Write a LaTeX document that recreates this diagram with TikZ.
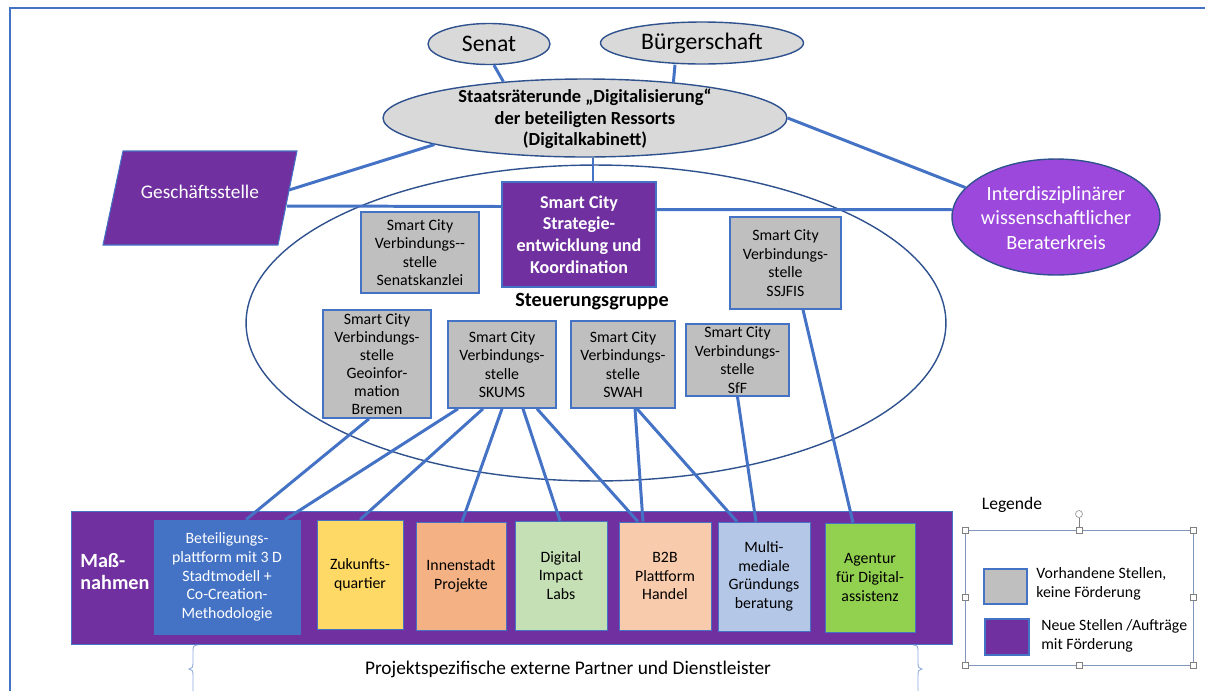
\documentclass[tikz,border=0pt]{standalone}
\usepackage{fontspec}
\setmainfont{Carlito}
\usepackage{tikz}
\usetikzlibrary{shapes.geometric}
\usetikzlibrary{calc}
\usepackage{xcolor}
\definecolor{myPurple}{RGB}{112,48,160}
\definecolor{myViolet}{RGB}{157,72,220}
\definecolor{myLine}{RGB}{68,114,196}
\definecolor{myDark}{RGB}{47,82,143}
\definecolor{myGrey}{RGB}{191,191,191}
\definecolor{myLight}{RGB}{217,217,217}
\definecolor{myYellow}{RGB}{255,217,102}
\definecolor{myOrange}{RGB}{244,177,131}
\definecolor{myGreen}{RGB}{197,224,180}
\definecolor{myPeach}{RGB}{248,203,173}
\definecolor{mySky}{RGB}{180,199,231}
\definecolor{myLime}{RGB}{146,208,80}
\tikzset{
  link/.style={draw=myLine, line width=1.7pt},
  topEll/.style={ellipse, draw=myDark, line width=0.8pt, fill=myLight, inner sep=0pt},
  greyBox/.style={draw=myLine, line width=0.9pt, fill=myGrey, align=center, inner sep=0pt,
    font=\fontsize{9}{10.5}\selectfont},
  purpleBox/.style={draw=myLine, line width=0.6pt, fill=myPurple, text=white, align=center, inner sep=0pt},
  massBox/.style={draw=myLine, line width=0.4pt, align=center, inner sep=0pt,
    font=\fontsize{9}{10.6}\selectfont},
}

\begin{document}
\begin{tikzpicture}[x=0.02cm, y=-0.02cm]

%%%%%%%%%%%%%%%%%%%%%%%%%%%%%%%%%%%%%%%%%%%%%%%%%%%%%%%%%%%%%% Setup
\useasboundingbox (0,0) rectangle (1205,691);
\draw[myLine, line width=0.6pt] (10,691) -- (10,8) -- (1205,8);

%%%%%%%%%%%%%%%%%%%%%%%%%%%%%%%%%%%%%%%%%%%%%%%%%%%%%%%%%%%%%% Steuerungsgruppe
\node[ellipse, draw=myDark, line width=0.8pt, inner sep=0pt, minimum width=14cm, minimum height=6.32cm] (steuer) at (596,323) {};

%%%%%%%%%%%%%%%%%%%%%%%%%%%%%%%%%%%%%%%%%%%%%%%%%%%%%%%%%%%%%% Top
\node[topEll, minimum width=2.44cm, minimum height=0.82cm, font=\fontsize{13.5}{16}\selectfont] (senat) at (489,44) {Senat};
\node[topEll, minimum width=4.06cm, minimum height=0.84cm, font=\fontsize{13.5}{16}\selectfont] (buerger) at (702,43) {Bürgerschaft};
\node[topEll, minimum width=8.08cm, minimum height=1.56cm] (staatsrat) at (585,118) {};
\node[align=center, font=\bfseries\fontsize{10.5}{12.2}\selectfont] (staatsratTxt) at (585,119) {Staatsräterunde „Digitalisierung“\\der beteiligten Ressorts\\(Digitalkabinett)};

% Geschaeftsstelle
\filldraw[draw=myLine, line width=0.6pt, fill=myPurple] (123,151) -- (297,151) -- (278,245) -- (103,245) -- cycle;
\node[text=white, font=\fontsize{11}{13}\selectfont] (gs) at (200,192) {Geschäftsstelle};
\coordinate (gsA) at (289,190);
\coordinate (gsB) at (287,206);

% Beraterkreis
\node[ellipse, draw=myDark, line width=0.8pt, fill=myViolet, inner sep=0pt, minimum width=4.16cm, minimum height=2.32cm] (interd) at (1056,217) {};
\node[align=center, text=white, font=\fontsize{11.5}{13.8}\selectfont] (interdTxt) at (1056,218) {Interdisziplinärer\\wissenschaftlicher\\Beraterkreis};

\draw[link] ($(senat.south)+(5,0)$) -- (staatsrat.156);
\draw[link] ($(buerger.south)+(-27,0)$) -- (staatsrat.22);
\draw[link] (gsA) -- (staatsrat.190);
\draw[link] (staatsrat.east) -- (interd.162);

%%%%%%%%%%%%%%%%%%%%%%%%%%%%%%%%%%%%%%%%%%%%%%%%%%%%%%%%%%%%%% Stellen
\node[purpleBox, minimum width=3.08cm, minimum height=2.1cm, font=\bfseries\fontsize{10.3}{12.3}\selectfont] (strat) at (579,234.5) {Smart City\\Strategie-\\entwicklung und\\Koordination};
\node[font=\bfseries\fontsize{11.5}{14}\selectfont] (steuerTxt) at (592,302) {Steuerungsgruppe};

\draw[link] ($(staatsrat.south)+(8,0)$) -- ($(strat.north)+(14,0)$);
\draw[link] (gsB) -- ($(strat.west)+(0,-28)$);
\draw[link] ($(strat.east)+(0,-25)$) -- (interd.176);

\node[greyBox, minimum width=2.36cm, minimum height=1.62cm] (senkanz) at (420,252.5) {Smart City\\Verbindungs-{}-\\stelle\\Senatskanzlei};
\node[greyBox, minimum width=2.22cm, minimum height=1.84cm] (ssjfis) at (785.5,263) {Smart City\\Verbindungs-\\stelle\\SSJFIS};
\node[greyBox, minimum width=2.16cm, minimum height=2.16cm, font=\fontsize{9}{10.3}\selectfont] (geo) at (377,364) {Smart City\\Verbindungs-\\stelle\\Geoinfor-\\mation\\Bremen};
\node[greyBox, minimum width=2.16cm, minimum height=1.74cm] (skums) at (502,364.5) {Smart City\\Verbindungs-\\stelle\\SKUMS};
\node[greyBox, minimum width=2.08cm, minimum height=1.74cm] (swah) at (623,364.5) {Smart City\\Verbindungs-\\stelle\\SWAH};
\node[greyBox, minimum width=2.06cm, minimum height=1.44cm] (sff) at (737.5,360) {Smart City\\Verbindungs-\\stelle\\SfF};

%%%%%%%%%%%%%%%%%%%%%%%%%%%%%%%%%%%%%%%%%%%%%%%%%%%%%%%%%%%%%% Massnahmen
\node[fill=myPurple, draw=myLine, line width=0.5pt, minimum width=17.64cm, minimum height=2.66cm] (bar) at (512,577.5) {};
\node[anchor=west, align=left, inner sep=0pt, text=white, font=\bfseries\fontsize{11.5}{13}\selectfont] (massTxt) at (80,571.5) {Maß-\\nahmen};

\node[massBox, fill=myLine, text=white, minimum width=2.92cm, minimum height=2.28cm] (bet) at (227,577) {Beteiligungs-\\plattform mit 3 D\\Stadtmodell +\\Co-Creation-\\Methodologie};
\node[massBox, fill=myYellow, minimum width=1.72cm, minimum height=2.18cm] (zuk) at (360,574.5) {Zukunfts-\\quartier};
\node[massBox, fill=myOrange, minimum width=1.8cm, minimum height=2.16cm] (inn) at (461,576) {Innenstadt\\Projekte};
\node[massBox, fill=myGreen, minimum width=1.84cm, minimum height=2.18cm] (dil) at (561,575.5) {Digital\\Impact\\Labs};
\node[massBox, fill=myPeach, minimum width=1.84cm, minimum height=2.16cm] (b2b) at (665,576) {B2B\\Plattform\\Handel};
\node[massBox, fill=mySky, minimum width=1.84cm, minimum height=2.18cm] (mmg) at (764,576.5) {Multi-\\mediale\\Gründungs\\beratung};
\node[massBox, fill=myLime, minimum width=1.8cm, minimum height=2.18cm] (agd) at (870,577.5) {Agentur\\für Digital-\\assistenz};

% Verbindungen nach unten
\draw[link] ($(geo.south)+(-8,0)$) -- ($(bet.north)+(19,0)$);
\draw[link] ($(skums.south)+(-44,0)$) -- ($(bet.north)+(58,0)$);
\draw[link] ($(skums.south)+(-19,0)$) -- (zuk.north);
\draw[link] (skums.south) -- ($(inn.north)+(1,0)$);
\draw[link] ($(skums.south)+(21,0)$) -- ($(dil.north)+(-1,0)$);
\draw[link] ($(skums.south)+(35,0)$) -- ($(b2b.north)+(-27,0)$);
\draw[link] ($(swah.south)+(12,0)$) -- ($(b2b.north)+(-22,0)$);
\draw[link] ($(swah.south)+(14,0)$) -- ($(mmg.north)+(-27,0)$);
\draw[link] (sff.south) -- ($(mmg.north)+(-8,0)$);
\draw[link] ($(ssjfis.south)+(17.5,0)$) -- ($(agd.north)+(-17,0)$);

% Partner
\node[font=\fontsize{11}{13}\selectfont] (partner) at (568,669) {Projektspezifische externe Partner und Dienstleister};
\draw[myLine!60, line width=0.5pt] (198,645) .. controls (193,645) and (193,647) .. (193,652) -- (193,663) .. controls (193,667) and (192,669) .. (189,669) .. controls (192,669) and (193,671) .. (193,675) -- (193,691);
\draw[myLine!60, line width=0.5pt] (913,645) .. controls (918,645) and (918,647) .. (918,652) -- (918,663) .. controls (918,667) and (919,669) .. (922,669) .. controls (919,669) and (918,671) .. (918,675) -- (918,691);

%%%%%%%%%%%%%%%%%%%%%%%%%%%%%%%%%%%%%%%%%%%%%%%%%%%%%%%%%%%%%% Legende
\node[font=\fontsize{10}{12}\selectfont] (legTitle) at (1012,505) {Legende};
\draw[myDark!60, line width=0.5pt] (965,530) rectangle (1193,665);
\draw[gray, line width=0.3pt] (1079,527) -- (1079,518);
\draw[gray, line width=0.3pt] (1079,514) circle (3.5);
\foreach \x/\y in {965/530,1079/530,1193/530,965/597,1193/597,965/665,1079/665,1193/665}
  \filldraw[fill=white, draw=gray, line width=0.3pt] (\x-3,\y-3) rectangle (\x+3,\y+3);

\node[greyBox, minimum width=0.86cm, minimum height=0.7cm] (legGrey) at (1005.5,586.5) {};
\node[purpleBox, minimum width=0.88cm, minimum height=0.72cm] (legPurple) at (1007,637) {};
\node[anchor=west, align=left, inner sep=0pt, font=\fontsize{9}{10.5}\selectfont] (legGreyTxt) at (1036,584) {Vorhandene Stellen,\\keine Förderung};
\node[anchor=west, align=left, inner sep=0pt, font=\fontsize{9}{10.5}\selectfont] (legPurpleTxt) at (1041,636) {Neue Stellen /Aufträge\\mit Förderung};

\end{tikzpicture}
\end{document}
